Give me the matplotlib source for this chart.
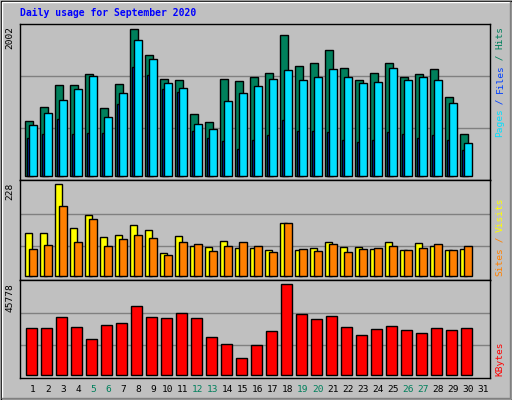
import matplotlib
matplotlib.use("Agg")
import matplotlib.pyplot as plt
import numpy as np

days = list(range(1, 32))
hits = [746, 937, 1238, 1238, 1388, 924, 1251, 2002, 1647, 1320, 1306, 842, 733, 1320, 1292,
        1347, 1401, 1920, 1497, 1538, 1715, 1470, 1306, 1401, 1538, 1347, 1388, 1456, 1074, 569]
files = [692, 855, 1033, 1183, 1360, 801, 1128, 1852, 1592, 1265, 1197, 705, 637, 1019, 1128,
         1224, 1320, 1442, 1306, 1347, 1456, 1347, 1265, 1279, 1470, 1306, 1347, 1306, 992, 446]
pages = [514, 569, 774, 569, 582, 582, 978, 1483, 1374, 1183, 1142, 610, 514, 473, 364,
         487, 555, 760, 610, 610, 596, 487, 460, 487, 596, 569, 514, 555, 487, 350]
sites = [107, 107, 228, 119, 151, 97, 102, 126, 114, 57, 99, 74, 72, 87, 69,
         69, 64, 131, 64, 69, 84, 72, 72, 67, 84, 64, 82, 74, 64, 67]
visits = [67, 77, 173, 84, 141, 74, 92, 102, 94, 52, 84, 79, 62, 74, 84,
          74, 59, 131, 67, 62, 79, 59, 67, 69, 74, 64, 69, 79, 64, 74]
kbytes = [23646, 23646, 29180, 24149, 18112, 25155, 26161, 34714, 29180, 28677, 31192, 28677,
          19118, 15596, 8553, 15093, 22136, 45778, 30689, 28174, 29683, 24149, 20124, 23143,
          24652, 22640, 21130, 23646, 22640, 23646]
weekend = [5, 6, 12, 13, 19, 20, 26, 27]

BG = "#c0c0c0"
W, H = 512, 400
fig = plt.figure(figsize=(5.12, 4.0), dpi=100, facecolor=BG)
mono = "DejaVu Sans Mono"

# outer bevel
fig.add_artist(plt.Rectangle((0.5 / W, 0.5 / H), 1 - 1 / W, 1 - 1 / H, transform=fig.transFigure,
                             fill=False, ec="black", lw=1))
fig.add_artist(plt.Line2D([2 / W, 2 / W, 1 - 2 / W], [2 / H, 1 - 2 / H, 1 - 2 / H], transform=fig.transFigure,
                          color="white", lw=1))
fig.add_artist(plt.Line2D([2 / W, 1 - 2 / W, 1 - 2 / W], [2 / H, 2 / H, 1 - 2 / H], transform=fig.transFigure,
                          color="#808080", lw=1))

x0, x1 = 20, 490
n = len(hits)
xd = np.arange(1, n + 1)


def make_ax(ptop, pbot, base, maxpx, maxv):
    ax = fig.add_axes([x0 / W, 1 - pbot / H, (x1 - x0) / W, (pbot - ptop) / H])
    ax.set_facecolor(BG)
    s = maxv / (base - maxpx)
    ax.set_ylim(-(pbot - base) * s, (base - ptop) * s)
    ax.set_xlim((x0 - 18) / 15, (x1 - 18) / 15)
    ax.set_xticks([]); ax.set_yticks([])
    for sp in ax.spines.values():
        sp.set_color("black"); sp.set_linewidth(1)
    for f in (0.33, 0.68):
        ax.axhline(maxv * f, color="#808080", lw=1, zorder=0)
    return ax


kw = dict(edgecolor="black", linewidth=1, align="edge")
ax1 = make_ax(24, 180, 176, 29.3, max(hits))
ax1.bar(xd - 0.51, hits, width=0.49, color="#00805c", **kw)
ax1.bar(xd - 0.42, pages, width=0.17, color="#0040ff", **kw)
ax1.bar(xd - 0.25, files, width=0.5, color="#00e0ff", **kw)

ax2 = make_ax(180, 280, 276, 184.3, max(sites))
ax2.bar(xd - 0.51, sites, width=0.47, color="#ffff00", **kw)
ax2.bar(xd - 0.25, visits, width=0.5, color="#ff8000", **kw)

ax3 = make_ax(280, 378, 375.3, 284, max(kbytes))
ax3.bar(xd - 0.45, kbytes, width=0.7, color="#ff0000", **kw)

fs = 6.8
fig.text(20 / W, 1 - 16 / H, "Daily usage for September 2020", color="#0000ff", family=mono,
         fontsize=7, fontweight="bold", va="baseline", ha="left")

for y, v in ((26, max(hits)), (183, max(sites)), (283, max(kbytes))):
    fig.text(10 / W, 1 - y / H, str(v), rotation=90, va="top", ha="center", family=mono, fontsize=fs)

for d in days:
    fig.text((18 + 15 * d) / W, 1 - 389 / H, str(d), ha="center", va="center", family=mono, fontsize=fs,
             color="#00805c" if d in weekend else "black")

cw = 5.5


def vlabel(ybot, parts):
    y = ybot
    for t, c in parts:
        fig.text(500 / W, 1 - y / H, t, rotation=90, va="bottom", ha="center", family=mono,
                 fontsize=fs, color=c)
        y -= cw * len(t)


vlabel(137, [("Pages", "#00e0ff"), (" / ", "#0040ff"), ("Files", "#0040ff"), (" / ", "#00805c"), ("Hits", "#00805c")])
vlabel(276, [("Sites", "#ff8000"), (" / ", "#ff8000"), ("Visits", "#ffff00")])
vlabel(376, [("KBytes", "#ff0000")])

fig.savefig("out.png", dpi=100, facecolor=BG)
